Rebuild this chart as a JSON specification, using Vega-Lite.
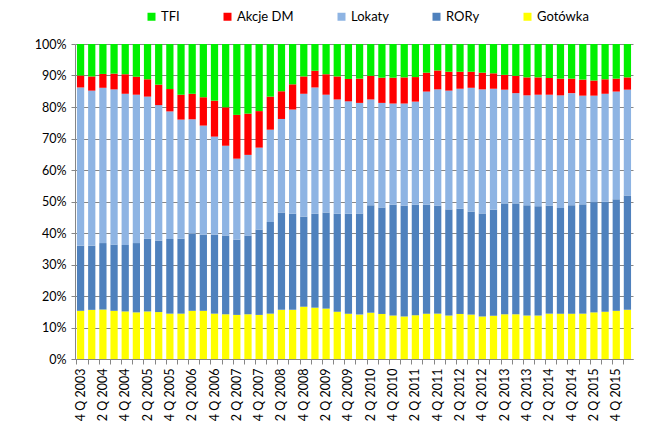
{
  "$schema": "https://vega.github.io/schema/vega-lite/v6.json",
  "autosize": "none",
  "width": 558,
  "height": 315,
  "padding": {"left": 75, "top": 44, "right": 17, "bottom": 64},
  "background": "white",
  "data": {
    "values": [
      {"q": "4 Q 2003", "Gotówka": 15.3, "RORy": 20.7, "Lokaty": 50.2, "Akcje DM": 3.8, "TFI": 10.0},
      {"q": "1 Q 2004", "Gotówka": 15.6, "RORy": 20.4, "Lokaty": 49.2, "Akcje DM": 4.5, "TFI": 10.3},
      {"q": "2 Q 2004", "Gotówka": 15.7, "RORy": 21.1, "Lokaty": 49.3, "Akcje DM": 4.4, "TFI": 9.5},
      {"q": "3 Q 2004", "Gotówka": 15.3, "RORy": 21.0, "Lokaty": 49.3, "Akcje DM": 5.0, "TFI": 9.4},
      {"q": "4 Q 2004", "Gotówka": 15.1, "RORy": 21.1, "Lokaty": 48.0, "Akcje DM": 6.2, "TFI": 9.6},
      {"q": "1 Q 2005", "Gotówka": 14.8, "RORy": 22.0, "Lokaty": 47.1, "Akcje DM": 5.7, "TFI": 10.4},
      {"q": "2 Q 2005", "Gotówka": 15.1, "RORy": 23.1, "Lokaty": 45.1, "Akcje DM": 5.5, "TFI": 11.2},
      {"q": "3 Q 2005", "Gotówka": 14.9, "RORy": 22.7, "Lokaty": 43.0, "Akcje DM": 6.5, "TFI": 12.9},
      {"q": "4 Q 2005", "Gotówka": 14.4, "RORy": 23.7, "Lokaty": 40.5, "Akcje DM": 7.1, "TFI": 14.3},
      {"q": "1 Q 2006", "Gotówka": 14.4, "RORy": 23.8, "Lokaty": 37.8, "Akcje DM": 7.9, "TFI": 16.1},
      {"q": "2 Q 2006", "Gotówka": 15.3, "RORy": 24.5, "Lokaty": 36.3, "Akcje DM": 8.1, "TFI": 15.8},
      {"q": "3 Q 2006", "Gotówka": 15.3, "RORy": 24.2, "Lokaty": 34.6, "Akcje DM": 9.0, "TFI": 16.9},
      {"q": "4 Q 2006", "Gotówka": 14.4, "RORy": 25.1, "Lokaty": 31.1, "Akcje DM": 11.4, "TFI": 18.0},
      {"q": "1 Q 2007", "Gotówka": 14.2, "RORy": 25.0, "Lokaty": 28.5, "Akcje DM": 12.2, "TFI": 20.1},
      {"q": "2 Q 2007", "Gotówka": 14.0, "RORy": 23.9, "Lokaty": 25.7, "Akcje DM": 13.9, "TFI": 22.5},
      {"q": "3 Q 2007", "Gotówka": 14.2, "RORy": 25.0, "Lokaty": 25.6, "Akcje DM": 13.1, "TFI": 22.1},
      {"q": "4 Q 2007", "Gotówka": 14.0, "RORy": 27.1, "Lokaty": 26.0, "Akcje DM": 11.6, "TFI": 21.3},
      {"q": "1 Q 2008", "Gotówka": 14.4, "RORy": 29.1, "Lokaty": 29.3, "Akcje DM": 10.5, "TFI": 16.7},
      {"q": "2 Q 2008", "Gotówka": 15.6, "RORy": 30.9, "Lokaty": 29.7, "Akcje DM": 8.8, "TFI": 15.0},
      {"q": "3 Q 2008", "Gotówka": 15.6, "RORy": 30.5, "Lokaty": 33.1, "Akcje DM": 8.0, "TFI": 12.8},
      {"q": "4 Q 2008", "Gotówka": 16.6, "RORy": 28.6, "Lokaty": 39.0, "Akcje DM": 5.5, "TFI": 10.3},
      {"q": "1 Q 2009", "Gotówka": 16.3, "RORy": 29.8, "Lokaty": 40.1, "Akcje DM": 5.3, "TFI": 8.5},
      {"q": "2 Q 2009", "Gotówka": 16.0, "RORy": 30.5, "Lokaty": 37.4, "Akcje DM": 6.5, "TFI": 9.6},
      {"q": "3 Q 2009", "Gotówka": 15.0, "RORy": 31.1, "Lokaty": 36.3, "Akcje DM": 7.3, "TFI": 10.3},
      {"q": "4 Q 2009", "Gotówka": 14.4, "RORy": 31.7, "Lokaty": 35.7, "Akcje DM": 7.1, "TFI": 11.1},
      {"q": "1 Q 2010", "Gotówka": 14.1, "RORy": 32.1, "Lokaty": 35.1, "Akcje DM": 7.7, "TFI": 11.0},
      {"q": "2 Q 2010", "Gotówka": 14.7, "RORy": 34.1, "Lokaty": 33.6, "Akcje DM": 7.5, "TFI": 10.1},
      {"q": "3 Q 2010", "Gotówka": 14.3, "RORy": 33.8, "Lokaty": 33.2, "Akcje DM": 8.0, "TFI": 10.7},
      {"q": "4 Q 2010", "Gotówka": 13.8, "RORy": 35.2, "Lokaty": 32.1, "Akcje DM": 8.2, "TFI": 10.7},
      {"q": "1 Q 2011", "Gotówka": 13.5, "RORy": 35.2, "Lokaty": 32.4, "Akcje DM": 8.3, "TFI": 10.6},
      {"q": "2 Q 2011", "Gotówka": 13.9, "RORy": 35.1, "Lokaty": 32.7, "Akcje DM": 7.8, "TFI": 10.5},
      {"q": "3 Q 2011", "Gotówka": 14.4, "RORy": 34.6, "Lokaty": 35.9, "Akcje DM": 6.0, "TFI": 9.1},
      {"q": "4 Q 2011", "Gotówka": 14.4, "RORy": 34.3, "Lokaty": 36.9, "Akcje DM": 6.0, "TFI": 8.4},
      {"q": "1 Q 2012", "Gotówka": 13.8, "RORy": 33.7, "Lokaty": 37.7, "Akcje DM": 6.0, "TFI": 8.8},
      {"q": "2 Q 2012", "Gotówka": 14.3, "RORy": 33.4, "Lokaty": 38.1, "Akcje DM": 5.4, "TFI": 8.8},
      {"q": "3 Q 2012", "Gotówka": 14.1, "RORy": 32.7, "Lokaty": 39.3, "Akcje DM": 5.1, "TFI": 8.8},
      {"q": "4 Q 2012", "Gotówka": 13.5, "RORy": 32.7, "Lokaty": 39.4, "Akcje DM": 5.3, "TFI": 9.1},
      {"q": "1 Q 2013", "Gotówka": 13.7, "RORy": 33.7, "Lokaty": 38.4, "Akcje DM": 4.9, "TFI": 9.3},
      {"q": "2 Q 2013", "Gotówka": 14.2, "RORy": 35.2, "Lokaty": 36.1, "Akcje DM": 4.7, "TFI": 9.8},
      {"q": "3 Q 2013", "Gotówka": 14.2, "RORy": 35.2, "Lokaty": 35.0, "Akcje DM": 5.5, "TFI": 10.1},
      {"q": "4 Q 2013", "Gotówka": 13.8, "RORy": 35.0, "Lokaty": 34.9, "Akcje DM": 5.7, "TFI": 10.6},
      {"q": "1 Q 2014", "Gotówka": 13.8, "RORy": 34.7, "Lokaty": 35.4, "Akcje DM": 5.5, "TFI": 10.6},
      {"q": "2 Q 2014", "Gotówka": 14.4, "RORy": 34.3, "Lokaty": 35.2, "Akcje DM": 5.3, "TFI": 10.8},
      {"q": "3 Q 2014", "Gotówka": 14.4, "RORy": 33.5, "Lokaty": 35.8, "Akcje DM": 5.3, "TFI": 11.0},
      {"q": "4 Q 2014", "Gotówka": 14.4, "RORy": 34.4, "Lokaty": 35.6, "Akcje DM": 4.6, "TFI": 11.0},
      {"q": "1 Q 2015", "Gotówka": 14.4, "RORy": 34.7, "Lokaty": 34.5, "Akcje DM": 5.1, "TFI": 11.3},
      {"q": "2 Q 2015", "Gotówka": 14.8, "RORy": 35.0, "Lokaty": 33.8, "Akcje DM": 4.8, "TFI": 11.6},
      {"q": "3 Q 2015", "Gotówka": 15.0, "RORy": 34.9, "Lokaty": 34.3, "Akcje DM": 4.6, "TFI": 11.2},
      {"q": "4 Q 2015", "Gotówka": 15.3, "RORy": 35.4, "Lokaty": 34.2, "Akcje DM": 4.1, "TFI": 11.0},
      {"q": "1 Q 2016", "Gotówka": 15.6, "RORy": 36.3, "Lokaty": 33.6, "Akcje DM": 3.9, "TFI": 10.6}
    ]
  },
  "transform": [
    {"fold": ["Gotówka", "RORy", "Lokaty", "Akcje DM", "TFI"], "as": ["kategoria", "udzial"]},
    {"window": [{"op": "row_number", "as": "poz"}], "groupby": ["q"]}
  ],
  "mark": {"type": "bar"},
  "encoding": {
    "x": {
      "field": "q",
      "type": "nominal",
      "sort": null,
      "scale": {"paddingInner": 0.35, "paddingOuter": 0.175},
      "axis": {
        "title": null,
        "labelAngle": -90,
        "bandPosition": 0,
        "labelOverlap": false,
        "labelExpr": "(substring(datum.label,0,1) == '2' || substring(datum.label,0,1) == '4') ? datum.label : ''",
        "tickSize": 5,
        "labelPadding": 4
      }
    },
    "y": {
      "field": "udzial",
      "type": "quantitative",
      "stack": "normalize",
      "axis": {
        "title": null,
        "format": ".0%",
        "values": [0, 0.1, 0.2, 0.3, 0.4, 0.5, 0.6, 0.7, 0.8, 0.9, 1],
        "tickSize": 4,
        "labelPadding": 5
      }
    },
    "color": {
      "field": "kategoria",
      "type": "nominal",
      "scale": {
        "domain": ["TFI", "Akcje DM", "Lokaty", "RORy", "Gotówka"],
        "range": ["#00F000", "#FF0000", "#8EB4E3", "#4F81BD", "#FFFF00"]
      },
      "legend": {
        "orient": "none",
        "legendX": 70,
        "legendY": -34,
        "direction": "horizontal",
        "title": null,
        "symbolType": "square",
        "symbolSize": 64,
        "symbolStrokeWidth": 0,
        "labelFont": "Lato",
        "labelFontSize": 13,
        "labelColor": "#000000",
        "labelOffset": 3,
        "columnPadding": 41
      }
    },
    "order": {"field": "poz", "type": "quantitative"}
  },
  "config": {
    "view": {"stroke": null},
    "axis": {
      "gridColor": "#868686",
      "domainColor": "#868686",
      "tickColor": "#868686",
      "labelColor": "#000000",
      "labelFont": "Lato",
      "labelFontSize": 12.5
    },
    "axisX": {"grid": false},
    "axisY": {"grid": true}
  }
}
